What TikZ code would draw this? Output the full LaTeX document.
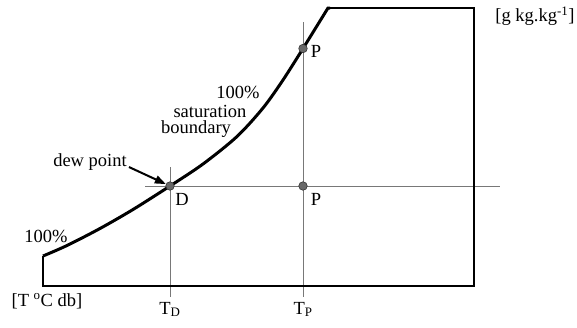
\documentclass[tikz,border=0pt]{standalone}
\usepackage{fontspec}
\setmainfont{Liberation Serif}
\usetikzlibrary{arrows.meta,positioning,calc}
\definecolor{guidegray}{RGB}{120,120,120}
\definecolor{dotgray} {RGB}{105,105,105}

\begin{document}
\begin{tikzpicture}[
    x=1pt,y=-1pt,
    lbl/.style  ={font=\fontsize{18.5}{20}\selectfont,inner sep=0pt},
    guide/.style={guidegray,line width=0.9pt},
    bound/.style={line width=2.2pt,line join=miter},
    sat/.style  ={line width=3pt,line join=miter},
    pt/.style   ={draw=black!80,fill=dotgray,circle,
                  inner sep=0pt,minimum size=8.5pt,line width=0.6pt},
    arr/.style  ={-{Triangle[length=11pt,width=8pt]},line width=2pt},
  ]
  \useasboundingbox (0,0) rectangle (577,327);

  %% Guide lines
  \coordinate (hl) at (145,186);
  \coordinate (hr) at (500,186);
  \coordinate (tdtop) at (170,167);
  \coordinate (tdbot) at (170,297);
  \coordinate (tptop) at (303,22);
  \coordinate (tpbot) at (303,297);
  \draw[guide] (hl) -- (hr);
  \draw[guide] (tdtop) -- (tdbot);
  \draw[guide] (tptop) -- (tpbot);

  %% Chart boundary
  \draw[bound] (43,256) -- (43,286) -- (474,286) -- (474,8) -- (328,8);

  %% 100% saturation curve
  \draw[sat] plot[smooth,tension=0.5] coordinates
    {(43,256) (67,245.5) (100,228.5) (133,209.5) (170,186) (203,164)
     (237,136.5) (263,108) (283,80) (303,48.5)} -- (328,8) -- (330,8);

  %% State points
  \node[pt] (D)  at (170,186) {};
  \node[pt] (P)  at (303,186) {};
  \node[pt] (Pp) at (303,48.5) {};

  \node[lbl] (Dlbl)  at (182,199) {D};
  \node[lbl] (Plbl)  at (316,199) {P};
  \node[lbl] (Pplbl) at (316,51)  {P};

  %% Dew point
  \node[lbl] (dewlbl) at (90,162) {dew point};
  \draw[arr] ([shift={(2,5)}]dewlbl.east) -- (D);

  %% Curve labels
  \node[lbl] (satA) at (238,92)  {100\%};
  \node[lbl] (satB) at (210,111) {saturation};
  \node[lbl] (satC) at (196,129) {boundary};
  \node[lbl] (low)  at (46,236)  {100\%};

  %% Axes
  \node[lbl] (xunit) at (47,301) {[T \textsuperscript{o}C db]};
  \node[lbl] (yunit) at (535,16) {[g kg.kg\textsuperscript{-1}]};
  \node[lbl,anchor=north] (TD) at (170,302) {T\textsubscript{D}};
  \node[lbl,anchor=north] (TP) at (303,302) {T\textsubscript{P}};
\end{tikzpicture}
\end{document}
